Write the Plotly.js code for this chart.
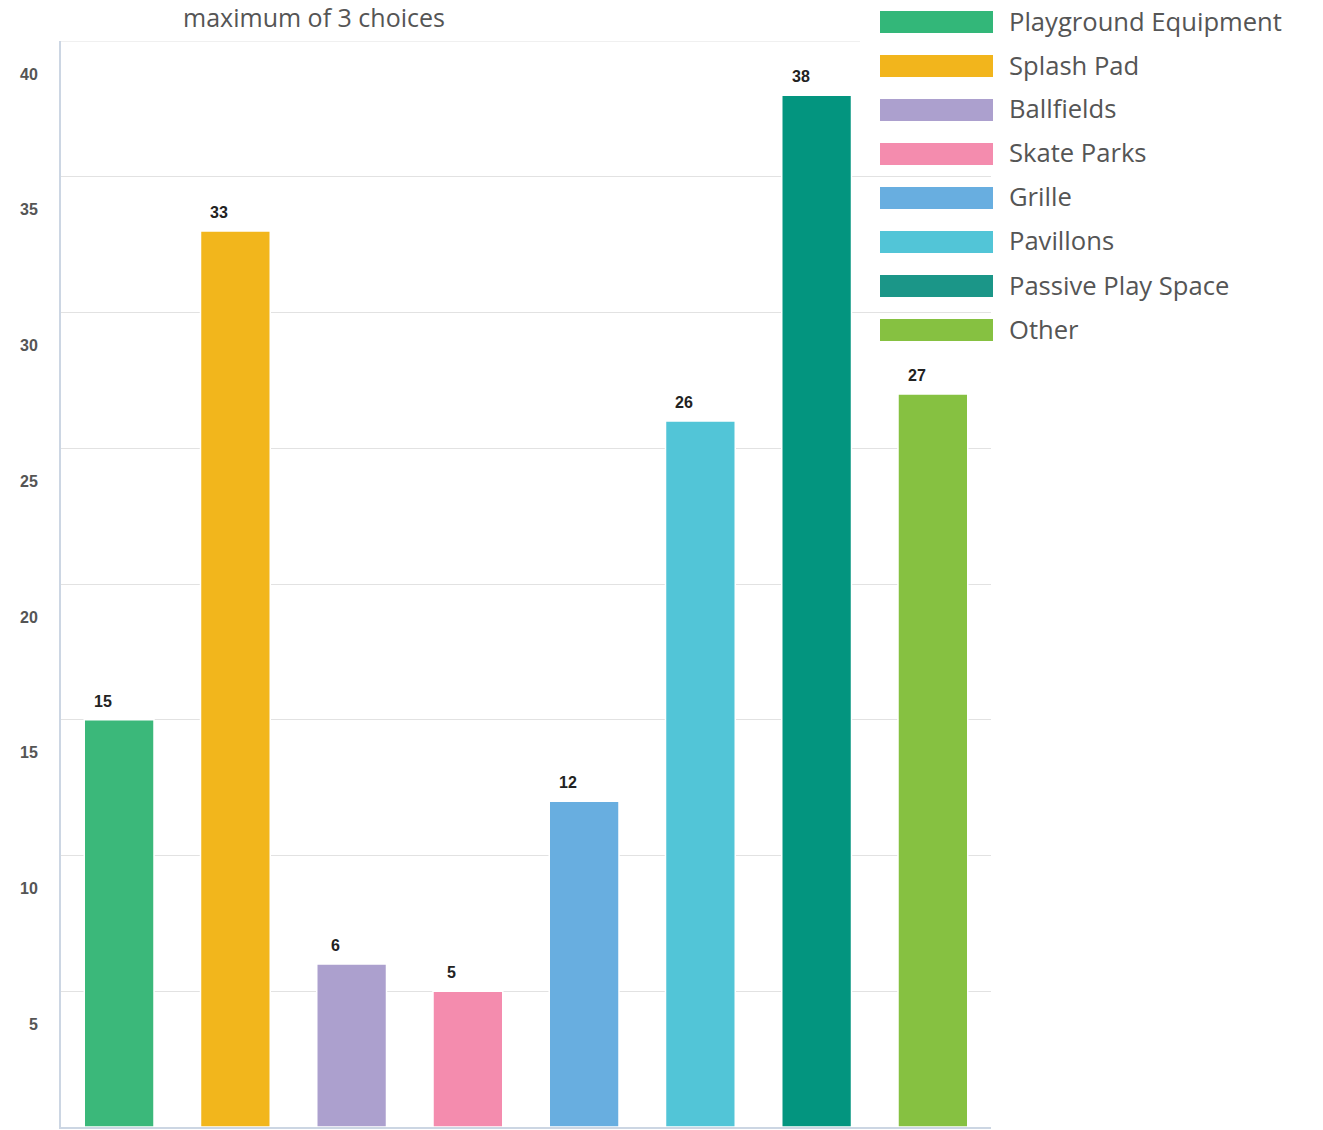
<!DOCTYPE html>
<html>
<head>
<meta charset="utf-8">
<script src="https://cdn.plot.ly/plotly-3.0.1.min.js"></script>
<style>html,body{margin:0;padding:0;background:#fff;}#chart{width:1323px;height:1130px;}</style>
</head>
<body>
<div id="chart"></div>
<script>
const categories = ["Playground Equipment","Splash Pad","Ballfields","Skate Parks","Grille","Pavillons","Passive Play Space","Other"];
const values = [15, 33, 6, 5, 12, 26, 38, 27];
const barColors = ["#3BB87A","#F2B61C","#ACA0CE","#F48CAE","#68AEE0","#52C5D7","#03957F","#86C141"];
const legendColors = ["#33B779","#F2B51C","#ACA0CE","#F48CAE","#68AEE0","#52C5D7","#1B9688","#86C141"];
const tickVals = [5,10,15,20,25,30,35,40];
const titleText = "maximum of 3 choices";

const W = 1323, H = 1130;
const L = 61, R = 991, T = 41, B = 1127;
const px2x = p => (p - L) / (R - L);
const px2y = p => (B - p) / (B - T);

const trace = {
  type: 'bar',
  x: categories,
  y: values,
  marker: {color: barColors, line: {color: '#ffffff', width: 1.5}},
  hoverinfo: 'x+y',
  showlegend: false
};

const shapes = [
  {type: 'line', xref: 'paper', yref: 'y', layer: 'below', x0: 0, x1: px2x(860), y0: 40, y1: 40,
   line: {color: '#e2e2e2', width: 1}},
  {type: 'rect', xref: 'paper', yref: 'paper', layer: 'between',
   x0: px2x(860), x1: px2x(W), y0: px2y(352), y1: px2y(0),
   fillcolor: '#ffffff', line: {width: 0}}
];
const annotations = [];
categories.forEach((c, i) => {
  annotations.push({
    xref: 'x', yref: 'y', x: c, y: values[i], xanchor: 'center', yanchor: 'bottom',
    xshift: -16, yshift: 8, text: String(values[i]), showarrow: false,
    font: {family: 'Liberation Sans, Arial, sans-serif', size: 16, color: '#222', weight: 'bold'}
  });
});
categories.forEach((c, i) => {
  const cy = 22 + i * 44;
  shapes.push({
    type: 'rect', xref: 'paper', yref: 'paper', layer: 'above',
    x0: px2x(880), x1: px2x(993), y0: px2y(cy + 11), y1: px2y(cy - 11),
    fillcolor: legendColors[i], line: {width: 0}
  });
  annotations.push({
    xref: 'paper', yref: 'paper', x: px2x(1007), y: px2y(cy - 1), xanchor: 'left', yanchor: 'middle',
    text: c, showarrow: false,
    font: {family: 'Open Sans, sans-serif', size: 25.6, color: '#555'}
  });
});

const layout = {
  width: W, height: H,
  margin: {l: L, r: W - R, t: T, b: H - B, pad: 0},
  paper_bgcolor: '#fff', plot_bgcolor: '#fff',
  title: {text: titleText, x: 314 / W, xanchor: 'center', xref: 'container', y: 1 - 18 / H, yref: 'container', yanchor: 'middle',
    font: {family: 'Open Sans, sans-serif', size: 25, color: '#555'}},
  bargap: 0.4,
  xaxis: {showticklabels: false, ticks: '', showgrid: false, zeroline: false,
    showline: true, linecolor: '#ccd6e3', linewidth: 2, fixedrange: true},
  yaxis: {range: [0, 40], tickvals: tickVals, ticktext: tickVals.map(String),
    showgrid: true, gridcolor: '#e2e2e2', gridwidth: 1, zeroline: false,
    showline: true, linecolor: '#ccd6e3', linewidth: 2,
    ticks: '', ticklabelstandoff: 18, ticklabelshift: 33,
    tickfont: {family: 'Liberation Sans, Arial, sans-serif', size: 16, color: '#555', weight: 'bold'}},
  shapes: shapes,
  annotations: annotations,
  showlegend: false
};
Plotly.newPlot('chart', [trace], layout, {displayModeBar: false, staticPlot: true});
</script>
</body>
</html>
